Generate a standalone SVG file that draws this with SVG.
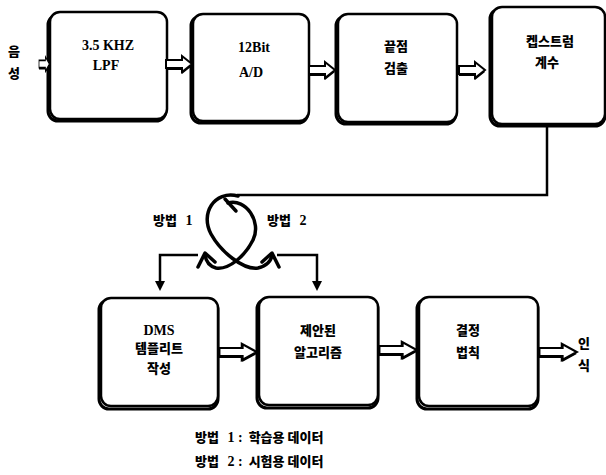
<svg xmlns="http://www.w3.org/2000/svg" width="606" height="475" viewBox="0 0 606 475">
<style>
.box{fill:#fff;stroke:#000;stroke-width:2.5}
.sh{fill:none;stroke:#000;stroke-width:3}
.t{font-family:"Liberation Serif","Noto Sans CJK KR",serif;font-weight:bold;font-size:14px;fill:#000;text-anchor:middle}
.k{font-family:"Noto Sans CJK KR","Noto Sans",sans-serif;font-weight:900;font-size:13px;fill:#000;text-anchor:middle}
.ln{fill:none;stroke:#000;stroke-width:2.5}
.loop{fill:none;stroke:#000;stroke-width:3.5;stroke-linecap:round;stroke-linejoin:round}
.blk{fill:#fff;stroke:#000;stroke-width:2;stroke-linejoin:miter}
.hd{fill:#000}
</style>
<defs>
<g id="barrow">
<path d="M0,-4 H16 V-8 L26,0 L16,8 V4 H0 Z" fill="#000" transform="translate(0,2)"/>
<path class="blk" d="M0,-4 H16 V-8 L26,0 L16,8 V4 H0 Z"/>
</g>
</defs>

<g id="input-label">
<text class="k" x="14" y="56">음</text>
<text class="k" x="14" y="78">성</text>
</g>

<g id="n1">
<rect class="sh" x="48" y="15" width="118" height="106" rx="10"/>
<rect class="box" x="50" y="12" width="117" height="107" rx="10"/>
<text class="t" x="108" y="50">3.5 KHZ</text>
<text class="t" x="106" y="70">LPF</text>
</g>
<g id="n2">
<rect class="sh" x="191" y="16" width="117" height="107" rx="10"/>
<rect class="box" x="193" y="14" width="116" height="107" rx="10"/>
<text class="t" x="254" y="52">12Bit</text>
<text class="t" x="251" y="77">A/D</text>
</g>
<g id="n3">
<rect class="sh" x="336" y="16" width="120" height="108" rx="10"/>
<rect class="box" x="338" y="14" width="119" height="108" rx="10"/>
<text class="k" x="396" y="51">끝점</text>
<text class="k" x="396" y="73">검출</text>
</g>
<g id="n4">
<rect class="sh" x="490" y="9" width="115" height="117" rx="10"/>
<rect class="box" x="492" y="7" width="113" height="117" rx="10"/>
<text class="k" x="550" y="46">켑스트럼</text>
<text class="k" x="547" y="67">계수</text>
</g>

<g id="n5">
<rect class="sh" x="99" y="300" width="119" height="109" rx="10"/>
<rect class="box" x="101" y="298" width="117" height="108" rx="10"/>
<text class="t" x="159" y="335">DMS</text>
<text class="k" x="159" y="353">템플리트</text>
<text class="k" x="159" y="373">작성</text>
</g>
<g id="n6">
<rect class="sh" x="257" y="299" width="121" height="109" rx="10"/>
<rect class="box" x="259" y="297" width="119" height="108" rx="10"/>
<text class="k" x="318" y="335">제안된</text>
<text class="k" x="318" y="357">알고리즘</text>
</g>
<g id="n7">
<rect class="sh" x="417" y="299" width="121" height="110" rx="10"/>
<rect class="box" x="419" y="297" width="119" height="109" rx="10"/>
<text class="k" x="468" y="335">결정</text>
<text class="k" x="468" y="357">법칙</text>
</g>

<g id="output-label">
<text class="k" x="584" y="348">인</text>
<text class="k" x="584" y="370">식</text>
</g>

<g id="connectors">
<use href="#barrow" transform="translate(39,64) scale(0.4,0.9)"/>
<use href="#barrow" transform="translate(166,64)"/>
<use href="#barrow" transform="translate(309,70)"/>
<use href="#barrow" transform="translate(459,70)"/>
<use href="#barrow" transform="translate(219,352) scale(1.45,1)"/>
<use href="#barrow" transform="translate(379,350) scale(1.45,1)"/>
<use href="#barrow" transform="translate(539,352) scale(1.45,1)"/>

<path class="ln" d="M547,124 V195 H237"/>
<path class="loop" d="M238,196 C214,190 200,214 211,234 C221,252 243,270 258,268 C266,266 271,262 272,255"/>
<path class="loop" d="M228,203 C246,198 262,222 253,240 C245,256 229,270 216,268 C209,266 206,262 205,255"/>
<path class="loop" d="M225,199 L236,211" stroke-width="2.5"/>
<path class="loop" d="M198,267 L205,253 L215,262"/>
<path class="loop" d="M262,262 L272,253 L279,267"/>

<path class="ln" d="M198,255 H160 V282"/>
<path class="hd" d="M155,281 L165,281 L160,291 Z"/>
<path class="ln" d="M277,255 H317 V282"/>
<path class="hd" d="M312,281 L322,281 L317,291 Z"/>
</g>

<g id="labels">
<text class="k" x="165" y="225">방법</text>
<text class="t" x="189" y="225">1</text>
<text class="k" x="279" y="225">방법</text>
<text class="t" x="303" y="225">2</text>
<text class="k" x="207" y="442">방법</text>
<text class="t" x="235" y="442">1 :</text>
<text class="k" x="286" y="442">학습용 데이터</text>
<text class="k" x="207" y="466">방법</text>
<text class="t" x="235" y="466">2 :</text>
<text class="k" x="286" y="466">시험용 데이터</text>
</g>
</svg>
